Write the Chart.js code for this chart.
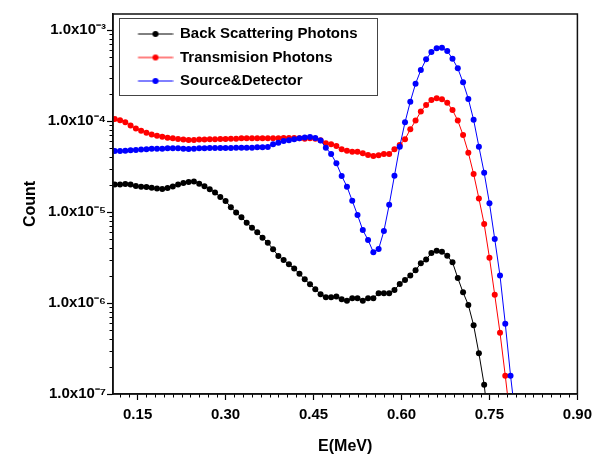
<!DOCTYPE html>
<html>
<head>
<meta charset="utf-8">
<script src="https://cdn.jsdelivr.net/npm/chart.js@4.4.1/dist/chart.umd.min.js"></script>
<style>
html,body{margin:0;padding:0;background:#fff;}
canvas{display:block;}
</style>
</head>
<body>
<canvas id="c" width="598" height="457"></canvas>
<script>
// ---------- data ----------
const energies = [
0.111,0.120,0.129,0.138,0.147,0.156,0.165,0.174,0.183,0.192,
0.201,0.210,0.219,0.228,0.237,0.246,0.255,0.264,0.273,0.282,
0.291,0.300,0.309,0.318,0.327,0.336,0.345,0.354,0.363,0.372,
0.381,0.390,0.399,0.408,0.417,0.426,0.435,0.444,0.453,0.462,
0.471,0.480,0.489,0.498,0.507,0.516,0.525,0.534,0.543,0.552,
0.561,0.570,0.579,0.588,0.597,0.606,0.615,0.624,0.633,0.642,
0.651,0.660,0.669,0.678,0.687,0.696,0.705,0.714,0.723,0.732,
0.741,0.750,0.759,0.768,0.777,0.786,0.795];

const seriesLabels = ['Back Scattering Photons', 'Transmision Photons', 'Source&Detector'];

const backScattering = [
2.01e-5,2.01e-5,2.03e-5,2.00e-5,1.93e-5,1.90e-5,1.88e-5,1.85e-5,1.81e-5,1.79e-5,
1.84e-5,1.91e-5,2.00e-5,2.09e-5,2.14e-5,2.16e-5,2.05e-5,1.92e-5,1.78e-5,1.64e-5,
1.46e-5,1.32e-5,1.13e-5,9.85e-6,8.75e-6,7.64e-6,6.73e-6,5.98e-6,5.23e-6,4.60e-6,
3.89e-6,3.29e-6,2.97e-6,2.66e-6,2.39e-6,2.09e-6,1.82e-6,1.61e-6,1.42e-6,1.25e-6,
1.16e-6,1.16e-6,1.18e-6,1.10e-6,1.06e-6,1.13e-6,1.13e-6,1.06e-6,1.13e-6,1.13e-6,
1.28e-6,1.28e-6,1.28e-6,1.39e-6,1.62e-6,1.79e-6,2.00e-6,2.29e-6,2.73e-6,3.00e-6,
3.55e-6,3.76e-6,3.65e-6,3.30e-6,2.80e-6,1.88e-6,1.31e-6,9.5e-7,5.7e-7,2.8e-7,
1.26e-7,4.0e-8];

const transmission = [
1.05e-4,1.02e-4,9.7e-5,8.9e-5,8.3e-5,7.8e-5,7.45e-5,7.1e-5,6.9e-5,6.7e-5,
6.55e-5,6.45e-5,6.35e-5,6.25e-5,6.18e-5,6.18e-5,6.25e-5,6.25e-5,6.3e-5,6.3e-5,
6.35e-5,6.35e-5,6.4e-5,6.4e-5,6.45e-5,6.45e-5,6.45e-5,6.45e-5,6.45e-5,6.45e-5,
6.45e-5,6.45e-5,6.5e-5,6.5e-5,6.5e-5,6.45e-5,6.4e-5,6.45e-5,6.4e-5,6.15e-5,
5.7e-5,5.55e-5,5.3e-5,4.9e-5,4.72e-5,4.6e-5,4.6e-5,4.42e-5,4.23e-5,4.12e-5,
4.2e-5,4.33e-5,4.33e-5,4.88e-5,5.45e-5,6.29e-5,8.1e-5,1.01e-4,1.27e-4,1.50e-4,
1.70e-4,1.78e-4,1.73e-4,1.59e-4,1.32e-4,1.01e-4,7.02e-5,4.49e-5,2.62e-5,1.41e-5,
7.38e-6,3.15e-6,1.23e-6,4.72e-7,1.59e-7,5.0e-8];

const sourceDetector = [
4.69e-5,4.69e-5,4.72e-5,4.76e-5,4.8e-5,4.85e-5,4.89e-5,4.97e-5,4.97e-5,4.97e-5,
5.01e-5,5.01e-5,5.01e-5,4.97e-5,4.93e-5,4.97e-5,5.01e-5,5.01e-5,5.05e-5,5.05e-5,
5.05e-5,5.05e-5,5.05e-5,5.09e-5,5.09e-5,5.09e-5,5.09e-5,5.14e-5,5.14e-5,5.18e-5,
5.54e-5,5.78e-5,6.03e-5,6.15e-5,6.3e-5,6.45e-5,6.6e-5,6.67e-5,6.51e-5,6.1e-5,
5.09e-5,4.34e-5,3.43e-5,2.49e-5,1.90e-5,1.33e-5,9.27e-6,6.34e-6,4.92e-6,3.62e-6,
3.92e-6,6.18e-6,1.20e-5,2.51e-5,5.23e-5,9.67e-5,1.63e-4,2.57e-4,3.63e-4,4.76e-4,
5.73e-4,6.29e-4,6.40e-4,5.88e-4,4.84e-4,3.79e-4,2.66e-4,1.75e-4,1.03e-4,5.23e-5,
2.70e-5,1.25e-5,5.05e-6,2.00e-6,5.93e-7,1.59e-7,5.0e-8];

const xTickValues = [0.15, 0.30, 0.45, 0.60, 0.75, 0.90];
const yTickValues = [1e-7, 1e-6, 1e-5, 1e-4, 1e-3];
const yTickLabels = ['1.0x10\u207B\u2077', '1.0x10\u207B\u2076', '1.0x10\u207B\u2075', '1.0x10\u207B\u2074', '1.0x10\u207B\u00B3'];
const seriesColors = ['#000000', '#ff0000', '#0000ff'];

// ---------- chart ----------
Chart.defaults.font.family = "'Liberation Sans', Arial, sans-serif";
Chart.defaults.color = '#000';

function toPoints(values) {
  return values.map((v, i) => ({x: energies[i], y: v}));
}

function legendSymbol(color) {
  const c = document.createElement('canvas');
  c.width = 42; c.height = 8;
  const g = c.getContext('2d');
  g.strokeStyle = color; g.lineWidth = 1;
  g.beginPath(); g.moveTo(6.5, 4); g.lineTo(41.5, 4); g.stroke();
  g.fillStyle = color;
  g.beginPath(); g.arc(24, 4, 3, 0, Math.PI * 2); g.fill();
  return c;
}

const seriesValues = [backScattering, transmission, sourceDetector];
const datasets = seriesValues.map((vals, i) => ({
  label: seriesLabels[i],
  data: toPoints(vals),
  borderColor: seriesColors[i],
  backgroundColor: seriesColors[i],
  borderWidth: 1,
  pointRadius: 3,
  pointBorderWidth: 0,
  pointBackgroundColor: seriesColors[i],
  tension: 0,
  order: 3 - i
}));

const decorPlugin = {
  id: 'decor',
  afterLayout(chart) {
    const ca = chart.chartArea;
    const lg = chart.legend;
    if (lg) {
      lg.left = ca.left + 11;
      lg.top = ca.top + 4;
      lg.right = lg.left + 260;
      lg.bottom = lg.top + 300;
    }
  },
  afterDraw(chart) {
    const {ctx, chartArea: ca, scales} = chart;
    ctx.save();
    // minor ticks
    ctx.strokeStyle = '#000';
    ctx.lineWidth = 1;
    ctx.beginPath();
    for (let k = 1; k < 60; k++) {
      const v = 0.105 + 0.015 * k;
      if (v > 0.9001) break;
      if (Math.abs(v / 0.15 - Math.round(v / 0.15)) < 1e-6) continue;
      if (v < scales.x.min) continue;
      const px = Math.round(scales.x.getPixelForValue(v)) + 0.5;
      ctx.moveTo(px, ca.bottom); ctx.lineTo(px, ca.bottom + 3.5);
    }
    for (let e = -7; e <= -3; e++) {
      for (let m = 2; m <= 9; m++) {
        const v = m * Math.pow(10, e);
        if (v > scales.y.max) continue;
        const py = Math.round(scales.y.getPixelForValue(v)) + 0.5;
        ctx.moveTo(ca.left, py); ctx.lineTo(ca.left - 3.5, py);
      }
    }
    ctx.stroke();
    // frame
    ctx.strokeStyle = '#111';
    ctx.lineWidth = 1.5;
    ctx.strokeRect(ca.left, ca.top, ca.right - ca.left, ca.bottom - ca.top);
    // legend frame
    ctx.strokeStyle = '#444';
    ctx.lineWidth = 1;
    ctx.strokeRect(ca.left + 6.5, ca.top + 4.5, 258, 77);
    ctx.restore();
  }
};

new Chart(document.getElementById('c'), {
  type: 'line',
  data: {datasets},
  plugins: [decorPlugin],
  options: {
    responsive: false,
    animation: false,
    devicePixelRatio: 1,
    layout: {padding: {top: 14, right: 13, left: 0, bottom: 0}},
    plugins: {
      tooltip: {enabled: false},
      legend: {
        position: 'chartArea',
        align: 'start',
        labels: {
          font: {size: 15, weight: 'bold'},
          color: '#000',
          usePointStyle: true,
          pointStyleWidth: 40,
          padding: 8.5,
          generateLabels: (chart) => chart.data.datasets.map((ds, i) => ({
            text: ds.label,
            pointStyle: legendSymbol(seriesColors[i]),
            fillStyle: seriesColors[i],
            strokeStyle: seriesColors[i],
            lineWidth: 0,
            hidden: false,
            datasetIndex: i,
            fontColor: '#000',
            textAlign: 'left'
          }))
        }
      }
    },
    scales: {
      x: {
        type: 'linear',
        min: 0.108,
        max: 0.90,
        afterBuildTicks: (s) => { s.ticks = xTickValues.map(v => ({value: v})); },
        afterFit: (s) => { s.height = 63; },
        ticks: {
          callback: (v) => Number(v).toFixed(2),
          font: {size: 15, weight: 'bold'},
          color: '#000',
          padding: 6,
          autoSkip: false,
          maxRotation: 0
        },
        grid: {drawOnChartArea: false, drawTicks: true, tickLength: 6, tickColor: '#000', tickWidth: 1.2},
        border: {display: true, color: '#111', width: 1.5},
        title: {display: true, text: 'E(MeV)', font: {size: 16, weight: 'bold'}, color: '#000', padding: {top: 0, bottom: 1}}
      },
      y: {
        type: 'logarithmic',
        min: 1e-7,
        max: 1.5e-3,
        afterBuildTicks: (s) => { s.ticks = yTickValues.map(v => ({value: v})); },
        afterFit: (s) => { s.width = 113; },
        ticks: {
          callback: (v) => yTickLabels[yTickValues.indexOf(v)],
          font: {size: 15, weight: 'bold'},
          color: '#000',
          padding: 1,
          autoSkip: false
        },
        grid: {drawOnChartArea: false, drawTicks: true, tickLength: 6, tickColor: '#000', tickWidth: 1.2},
        border: {display: true, color: '#111', width: 1.5},
        title: {display: true, text: 'Count', font: {size: 16, weight: 'bold'}, color: '#000', padding: {top: 21, bottom: 0}}
      }
    }
  }
});
</script>
</body>
</html>
